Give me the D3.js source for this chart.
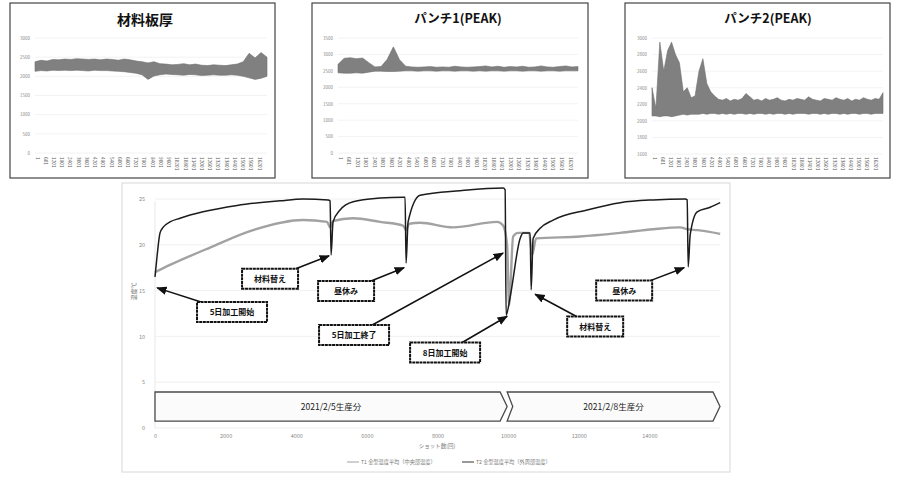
<!DOCTYPE html>
<html><head><meta charset="utf-8">
<script src="https://cdn.jsdelivr.net/npm/d3@7"></script>
<style>
body{margin:0;background:#fff;}
svg{display:block;}
text{font-family:"Noto Sans CJK JP","Noto Sans",sans-serif;}
</style>
</head><body>
<svg id="c" width="899" height="477"></svg>
<script>
// ---------- main chart data ----------
const shotsT1 = [0,425,1558,2776,4193,4873,4958,5042,5609,6374,7025,7110,7195,7507,8442,9688,9858,9971,10028,10142,10283,10595,10680,10793,12040,13173,14108,14873,15071,15354,16005];
const valsT1  = [17.0,17.8,19.7,21.6,22.7,22.5,21.9,22.6,22.9,22.5,22.1,21.6,22.3,22.4,21.9,22.5,22.1,20.0,13.4,20.9,21.3,21.3,18.9,20.7,20.9,21.3,21.7,21.9,21.7,21.6,21.2];
const shotsT2 = [0,57,142,227,425,708,1360,2323,3541,4193,4901,4958,4986,5042,5241,5609,6374,7025,7082,7110,7167,7507,8640,9858,9915,9943,10057,10340,10425,10623,10652,10708,10906,11275,12238,13173,14108,15014,15071,15099,15156,15354,15722,16005];
const valsT2  = [16.5,18.7,21.3,21.9,22.5,22.9,23.6,24.3,24.8,25.0,24.9,24.8,18.9,22.5,23.8,24.7,25.1,25.2,25.2,18.0,22.5,25.4,25.9,26.2,26.0,12.3,14.3,20.7,21.3,21.3,15.1,20.7,21.8,22.7,23.8,24.6,24.9,25.0,24.9,17.6,21.1,23.6,24.1,24.6];
const seriesNames = ["T1 金型温度平均（中央部温度）","T2 金型温度平均（外周部温度）"];
const xTicks = [0,2000,4000,6000,8000,10000,12000,14000];
const yTicks = [0,5,10,15,20,25];
const xTitle = "ショット数(回)";
const yTitle = "温度℃";
// annotations: label, target (shot,value), box centre (shot,value)
const annLabels = ["5日加工開始","材料替え","昼休み","5日加工終了","8日加工開始","材料替え","昼休み"];
const annTargetShot = [60,4929,7054,9858,9972,10765,14986];
const annTargetVal  = [15.3,18.8,17.5,19.1,12.2,14.6,17.5];
const annBoxShot    = [2181,3258,5411,5637,8215,12465,13286];
const annBoxVal     = [12.66,16.3,14.96,10.15,8.24,11.08,15.0];
// production periods
const periodLabels = ["2021/2/5生産分","2021/2/8生産分"];
const periodStart = [0,9972];
const periodEnd   = [9972,16000];

// ---------- top panel data ----------
const panelTitles = ["材料板厚","パンチ1(PEAK)","パンチ2(PEAK)"];
const catLabels = ["1","601","1201","1801","2401","3001","3601","4201","4801","5401","6001","6601","7201","7801","8401","9001","9601","10201","10801","11401","12001","12601","13201","13801","14401","15001","15601","16201"];
const thickUpper = [2380,2420,2400,2440,2430,2450,2440,2460,2450,2440,2450,2430,2450,2440,2420,2450,2430,2400,2380,2350,2380,2330,2320,2300,2310,2330,2300,2320,2290,2280,2300,2290,2280,2300,2320,2380,2600,2480,2620,2500];
const thickLower = [2130,2150,2140,2160,2150,2160,2150,2160,2150,2140,2160,2150,2150,2140,2130,2120,2100,2080,2040,1920,2010,2040,2060,2050,2040,2030,2050,2040,2020,2030,2040,2030,2030,2040,2030,2000,1960,1920,1950,2000];
const p1Upper = [2700,2880,2900,2870,2890,2750,2620,2630,2850,3230,2840,2640,2620,2610,2620,2630,2610,2620,2610,2640,2620,2610,2620,2630,2650,2620,2640,2610,2630,2620,2640,2610,2620,2650,2620,2610,2630,2650,2620,2630];
const p1Lower = [2440,2430,2430,2440,2430,2460,2490,2490,2480,2480,2490,2500,2500,2490,2500,2500,2490,2500,2500,2490,2500,2500,2490,2500,2490,2500,2500,2490,2500,2500,2490,2500,2500,2490,2500,2500,2490,2500,2500,2500];
const p2Upper = [2400,2150,2950,2600,2850,2950,2800,2700,2350,2400,2280,2300,2600,2750,2450,2350,2300,2260,2250,2270,2240,2260,2250,2270,2330,2290,2250,2260,2240,2270,2250,2260,2280,2250,2240,2260,2250,2270,2260,2250,2290,2260,2250,2240,2270,2260,2250,2280,2260,2250,2270,2240,2260,2250,2280,2260,2250,2270,2260,2340];
const p2Lower = [2060,2060,2050,2060,2060,2050,2060,2070,2080,2070,2080,2080,2080,2090,2080,2090,2090,2080,2090,2080,2090,2080,2090,2090,2080,2090,2080,2090,2090,2080,2090,2080,2090,2090,2080,2090,2080,2090,2090,2090,2080,2090,2090,2080,2090,2080,2090,2090,2080,2090,2080,2090,2090,2080,2090,2090,2080,2090,2090,2090];
const thickTicks = [0,500,1000,1500,2000,2500,3000];
const p1Ticks = [0,500,1000,1500,2000,2500,3000,3500];
const p2Ticks = [1600,1800,2000,2200,2400,2600,2800,3000];

const svg = d3.select("#c");

// ---------- top panels ----------
const panels = [
  {title:panelTitles[0], box:[10,3,265,175], tx:145, ty:25, tsize:14, xr:[35,267], yr:[153,38], dom:[0,3000], ticks:thickTicks, up:thickUpper, lo:thickLower, lx:30},
  {title:panelTitles[1], box:[312,3,276,175], tx:458, ty:23, tsize:12.5, xr:[338,578], yr:[153,38], dom:[0,3500], ticks:p1Ticks, up:p1Upper, lo:p1Lower, lx:333},
  {title:panelTitles[2], box:[625,3,265,175], tx:768, ty:23, tsize:12.5, xr:[652,883], yr:[154,38], dom:[1600,3000], ticks:p2Ticks, up:p2Upper, lo:p2Lower, lx:647}
];
panels.forEach(p=>{
  const g = svg.append("g");
  g.append("rect").attr("x",p.box[0]).attr("y",p.box[1]).attr("width",p.box[2]).attr("height",p.box[3])
    .attr("fill","#fff").attr("stroke","#444").attr("stroke-width",1.2);
  g.append("text").attr("x",p.tx).attr("y",p.ty).attr("text-anchor","middle")
    .attr("font-size",p.tsize).attr("font-weight","bold").attr("fill","#111").text(p.title);
  const y = d3.scaleLinear().domain(p.dom).range(p.yr);
  const xi = d3.scaleLinear().domain([0,p.up.length-1]).range(p.xr);
  g.selectAll(".gl").data(p.ticks).join("line")
    .attr("x1",p.xr[0]).attr("x2",p.xr[1]).attr("y1",d=>y(d)).attr("y2",d=>y(d))
    .attr("stroke","#efefef").attr("stroke-width",0.8);
  g.selectAll(".tl").data(p.ticks).join("text")
    .attr("x",p.lx).attr("y",d=>y(d)+1.8).attr("text-anchor","end")
    .attr("font-size",4.5).attr("fill","#888").text(d=>d);
  const area = d3.area().x((d,i)=>xi(i)).y0((d,i)=>y(p.lo[i])).y1((d,i)=>y(p.up[i]));
  g.append("path").datum(p.up).attr("d",area).attr("fill","#808080").attr("stroke","#6e6e6e").attr("stroke-width",0.6);
  const xc = d3.scalePoint().domain(catLabels).range([p.xr[0]+2,p.xr[1]-8]);
  g.selectAll(".cl").data(catLabels).join("text")
    .attr("transform",d=>`translate(${xc(d)-1.5},157) rotate(90)`)
    .attr("font-size",4.8).attr("fill","#555").text(d=>d);
});

// ---------- main chart ----------
svg.append("rect").attr("x",122).attr("y",183).attr("width",608).attr("height",289)
  .attr("fill","none").attr("stroke","#d8d8d8").attr("stroke-width",1);

const x = d3.scaleLinear().domain([0,16000]).range([155,720]);
const y = d3.scaleLinear().domain([0,25]).range([428,199]);
const main = svg.append("g");

// grid
main.selectAll(".mg").data(yTicks).join("line")
  .attr("x1",x(0)).attr("x2",x(16000)).attr("y1",d=>y(d)).attr("y2",d=>y(d))
  .attr("stroke","#ececec").attr("stroke-width",0.8);
main.append("line").attr("x1",x(0)).attr("x2",x(0)).attr("y1",y(0)).attr("y2",y(25)+2)
  .attr("stroke","#e2e2e2").attr("stroke-width",0.8);

// axes
const yAx = main.append("g").attr("transform",`translate(${x(0)-7},0)`)
  .call(d3.axisLeft(y).tickValues(yTicks).tickSize(0).tickPadding(3));
yAx.select(".domain").remove();
yAx.selectAll("text").attr("font-size",5.5).attr("fill","#8a8a8a");
const xAx = main.append("g").attr("transform",`translate(0,${y(0)+2})`)
  .call(d3.axisBottom(x).tickValues(xTicks).tickFormat(d3.format("d")).tickSize(0).tickPadding(4));
xAx.select(".domain").remove();
xAx.selectAll("text").attr("font-size",5.5).attr("fill","#8a8a8a");

main.append("text").attr("transform",`translate(136,${y(14.9)}) rotate(-90)`)
  .attr("text-anchor","middle").attr("font-size",6).attr("fill","#777").text(yTitle);
main.append("text").attr("x",437).attr("y",448).attr("text-anchor","middle")
  .attr("font-size",5.5).attr("fill","#777").text(xTitle);

// legend
const legCols = ["#a0a0a0","#333"];
const legX = [347,462];
seriesNames.forEach((n,i)=>{
  main.append("line").attr("x1",legX[i]).attr("x2",legX[i]+12).attr("y1",462).attr("y2",462)
    .attr("stroke",legCols[i]).attr("stroke-width",1);
  main.append("text").attr("x",legX[i]+14).attr("y",464).attr("font-size",5.2).attr("fill","#777").text(n);
});

// period banners
const bTop = 3.93, bBot = 0.76, bMid = (bTop+bBot)/2;
const tip = 7*16000/565; // arrow tip depth in shots (~7px)
const bannerLine = d3.line().x(d=>x(d[0])).y(d=>y(d[1]));
periodLabels.forEach((lab,i)=>{
  const s = periodStart[i], e = periodEnd[i];
  let pts;
  if(i===0){
    pts = [[s,bTop],[e-tip,bTop],[e,bMid],[e-tip,bBot],[s,bBot]];
  } else {
    pts = [[s,bTop],[e-tip,bTop],[e,bMid],[e-tip,bBot],[s,bBot],[s+tip*0.8,bMid]];
  }
  main.append("path").attr("d",bannerLine(pts)+"Z")
    .attr("fill","#fbfbfb").attr("stroke","#4a4a4a").attr("stroke-width",1.3);
  main.append("text").attr("x",x((s+e)/2)).attr("y",y(bMid)+3)
    .attr("text-anchor","middle").attr("font-size",8.5).attr("fill","#222").text(lab);
});

// lines
const line = d3.line().x(d=>x(d[0])).y(d=>y(d[1])).curve(d3.curveMonotoneX);
main.append("path").datum(shotsT1.map((s,i)=>[s,valsT1[i]])).attr("d",line)
  .attr("fill","none").attr("stroke","#a2a2a2").attr("stroke-width",2.4);
main.append("path").datum(shotsT2.map((s,i)=>[s,valsT2[i]])).attr("d",line)
  .attr("fill","none").attr("stroke","#1c1c1c").attr("stroke-width",1.5);

// arrow marker
svg.append("defs").append("marker").attr("id","ah").attr("viewBox","0 0 10 10")
  .attr("refX",9).attr("refY",5).attr("markerWidth",7).attr("markerHeight",7).attr("orient","auto")
  .append("path").attr("d","M0,1 L10,5 L0,9 Z").attr("fill","#111");

// annotations
annLabels.forEach((lab,i)=>{
  const cx = x(annBoxShot[i]), cy = y(annBoxVal[i]);
  const w = Math.max(lab.length*8+22, 56), h = 20;
  const tx = x(annTargetShot[i]), ty = y(annTargetVal[i]);
  const dx = tx-cx, dy = ty-cy;
  const t = Math.min(Math.abs((w/2)/(dx||1e-6)), Math.abs((h/2)/(dy||1e-6)));
  const sx = cx+dx*t, sy = cy+dy*t;
  main.append("line").attr("x1",sx).attr("y1",sy).attr("x2",tx).attr("y2",ty)
    .attr("stroke","#111").attr("stroke-width",1.5).attr("marker-end","url(#ah)");
  main.append("rect").attr("x",cx-w/2).attr("y",cy-h/2).attr("width",w).attr("height",h)
    .attr("fill","#fff").attr("stroke","#111").attr("stroke-width",2).attr("stroke-dasharray","3,0.6");
  main.append("text").attr("x",cx).attr("y",cy+3).attr("text-anchor","middle")
    .attr("font-size",8).attr("font-weight","bold").attr("fill","#111").text(lab);
});
</script>
</body></html>
